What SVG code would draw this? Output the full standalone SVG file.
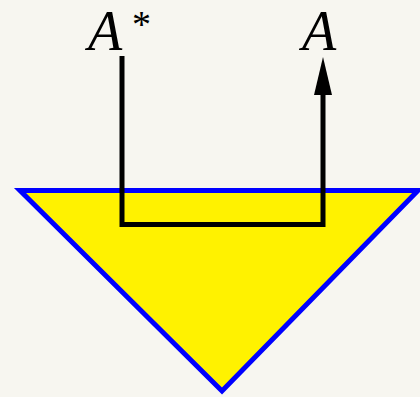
<svg xmlns="http://www.w3.org/2000/svg" width="420" height="397" viewBox="0 0 420 397">
<style>
.lbl{font-family:"Liberation Serif",serif;font-style:italic;font-size:56px;fill:#000}
.sup{font-family:"Liberation Serif",serif;font-size:38px;fill:#000}
.wire{fill:none;stroke:#000;stroke-width:5}
</style>
<rect width="420" height="397" fill="#f7f6f0"/>
<g id="triangle">
<polygon points="20,190.5 418,190.5 222,391" fill="#fff200" stroke="#0000ff" stroke-width="5" stroke-linejoin="miter"/>
</g>
<g id="connectors">
<path class="wire" d="M122,56 L122,224.5 L323,224.5 L323,94"/>
<path d="M323,57 L332,95 L314,95 Z" fill="#000"/>
</g>
<g id="label-astar">
<text class="lbl" x="88" y="50">A</text>
<text class="sup" x="132" y="37">*</text>
</g>
<g id="label-a">
<text class="lbl" x="302" y="50">A</text>
</g>
</svg>
